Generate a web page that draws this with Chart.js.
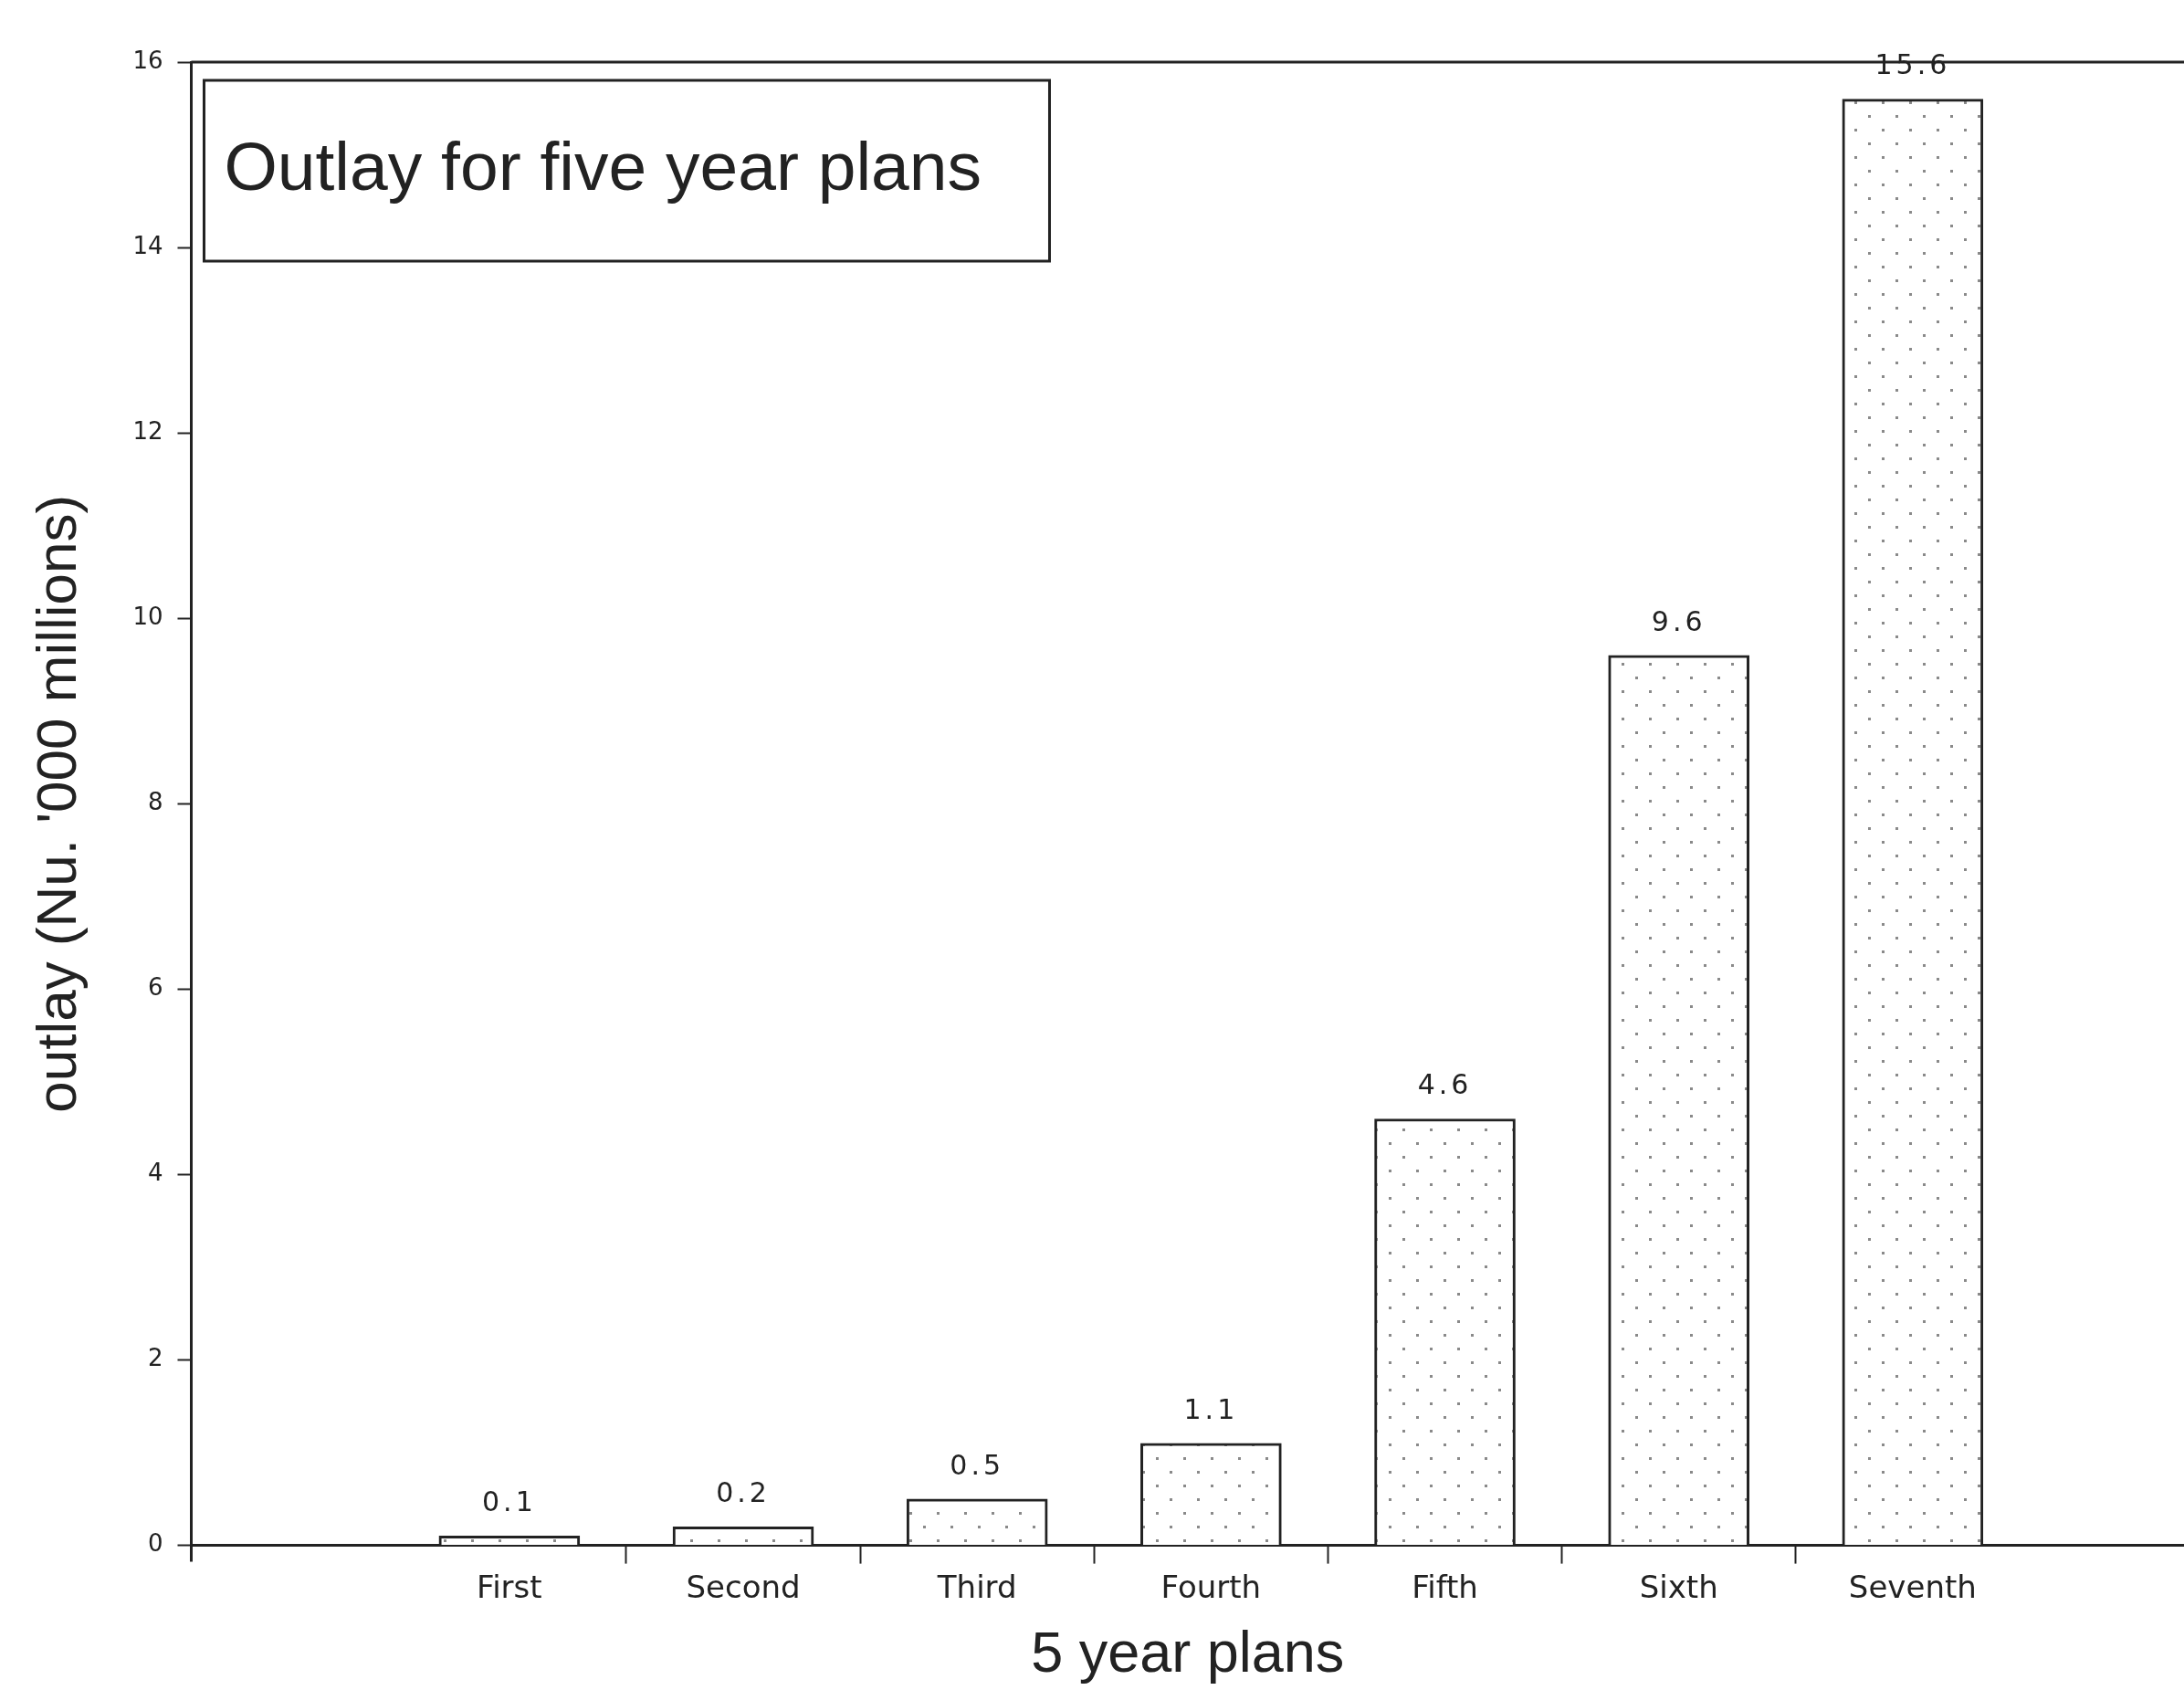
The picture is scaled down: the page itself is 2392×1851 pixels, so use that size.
<!DOCTYPE html>
<html>
<head>
<meta charset="utf-8">
<title>Outlay for five year plans</title>
<script src="https://cdn.jsdelivr.net/npm/chart.js@4.4.1/dist/chart.umd.min.js"></script>
<style>
  html, body { margin: 0; padding: 0; background: #fff; }
  #wrap { width: 2392px; height: 1851px; }
</style>
</head>
<body>
<div id="wrap"><canvas id="outlayChart" width="2392" height="1851"></canvas></div>
<script>
// Planes quinquenales y gasto (Nu. '000 millones)
const plans = ['First', 'Second', 'Third', 'Fourth', 'Fifth', 'Sixth', 'Seventh'];
const outlay = [0.1, 0.2, 0.5, 1.1, 4.6, 9.6, 15.6];
const yTicks = [0, 2, 4, 6, 8, 10, 12, 14, 16];

// posiciones del eje x: un plan en cada entero, marcas entre planes
const xTickValues = [];
plans.forEach((p, i) => {
    xTickValues.push(i);
    if (i < plans.length - 1) xTickValues.push(i + 0.5);
});

const FONT = '"Liberation Sans", Arial, sans-serif';
const SMALL = '"DejaVu Sans", sans-serif';
const INK = '#222';

// trama punteada de las barras
function dotPattern() {
    const c = document.createElement('canvas');
    c.width = 30;
    c.height = 30;
    const g = c.getContext('2d');
    g.fillStyle = '#fff';
    g.fillRect(0, 0, 30, 30);
    g.fillStyle = '#8a8a8a';
    g.fillRect(6, 6, 3, 3);
    g.fillRect(21, 21, 3, 3);
    return g.createPattern(c, 'repeat');
}

// cuadro con el título, línea superior y valores sobre las barras
const decorations = {
    id: 'decorations',
    afterDatasetsDraw(chart) {
        const { ctx, chartArea } = chart;
        const meta = chart.getDatasetMeta(0);
        ctx.save();
        ctx.strokeStyle = INK;
        ctx.lineWidth = 3;
        ctx.beginPath();
        ctx.moveTo(chartArea.left, chartArea.top);
        ctx.lineTo(chartArea.right, chartArea.top);
        ctx.moveTo(chartArea.left, chartArea.bottom);
        ctx.lineTo(chartArea.left, chartArea.bottom + 18);
        ctx.stroke();

        ctx.fillStyle = INK;
        ctx.font = '30px ' + SMALL;
        ctx.letterSpacing = '4px';
        ctx.textAlign = 'center';
        ctx.textBaseline = 'bottom';
        meta.data.forEach((bar, i) => {
            ctx.fillText(outlay[i].toFixed(1), bar.x, bar.y - 20);
        });
        ctx.letterSpacing = '0px';

        const bx = chartArea.left + 14;
        const by = chartArea.top + 20;
        ctx.fillStyle = '#fff';
        ctx.fillRect(bx, by, 926, 198);
        ctx.strokeRect(bx, by, 926, 198);
        ctx.fillStyle = INK;
        ctx.font = '75px ' + FONT;
        ctx.textAlign = 'left';
        ctx.textBaseline = 'alphabetic';
        ctx.fillText('Outlay for five year plans', bx + 22, by + 120);
        ctx.restore();
    }
};

const ctx = document.getElementById('outlayChart').getContext('2d');
const outlayChart = new Chart(ctx, {
    type: 'bar',
    data: {
        datasets: [{
            label: 'Outlay',
            data: outlay.map((v, i) => ({ x: i, y: v })),
            backgroundColor: dotPattern(),
            borderColor: INK,
            borderWidth: 3,
            barThickness: 154,
        }],
    },
    options: {
        responsive: false,
        animation: false,
        layout: { padding: { left: 25, top: 68, right: 0, bottom: 0 } },
        plugins: {
            legend: { display: false },
            tooltip: { enabled: false },
        },
        scales: {
            x: {
                type: 'linear',
                min: -1.36,
                max: 7.16,
                offset: false,
                afterBuildTicks: (scale) => {
                    scale.ticks = xTickValues.map(v => ({ value: v }));
                },
                ticks: {
                    autoSkip: false,
                    maxRotation: 0,
                    padding: 8,
                    color: INK,
                    font: { family: SMALL, size: 34 },
                    callback: (v) => Number.isInteger(v) ? plans[v] : '',
                },
                grid: {
                    offset: false,
                    drawOnChartArea: false,
                    tickLength: 20,
                    tickWidth: 2,
                    tickColor: (c) => (c.tick && Number.isInteger(c.tick.value)) ? 'rgba(0,0,0,0)' : INK,
                },
                border: { display: true, color: INK, width: 3 },
                title: {
                    display: true,
                    text: '5 year plans',
                    color: INK,
                    font: { family: FONT, size: 63 },
                    padding: { top: 6, bottom: 0 },
                },
            },
            y: {
                min: 0,
                max: 16,
                afterBuildTicks: (scale) => {
                    scale.ticks = yTicks.map(v => ({ value: v }));
                },
                ticks: {
                    padding: 16,
                    color: INK,
                    font: { family: SMALL, size: 26 },
                },
                grid: {
                    drawOnChartArea: false,
                    tickLength: 15,
                    tickWidth: 2,
                    tickColor: INK,
                },
                border: { display: true, color: INK, width: 3 },
                title: {
                    display: true,
                    text: "outlay (Nu. '000 millions)",
                    color: INK,
                    font: { family: FONT, size: 62 },
                    padding: { top: 4, bottom: 26 },
                },
            },
        },
    },
    plugins: [decorations],
});
</script>
</body>
</html>
